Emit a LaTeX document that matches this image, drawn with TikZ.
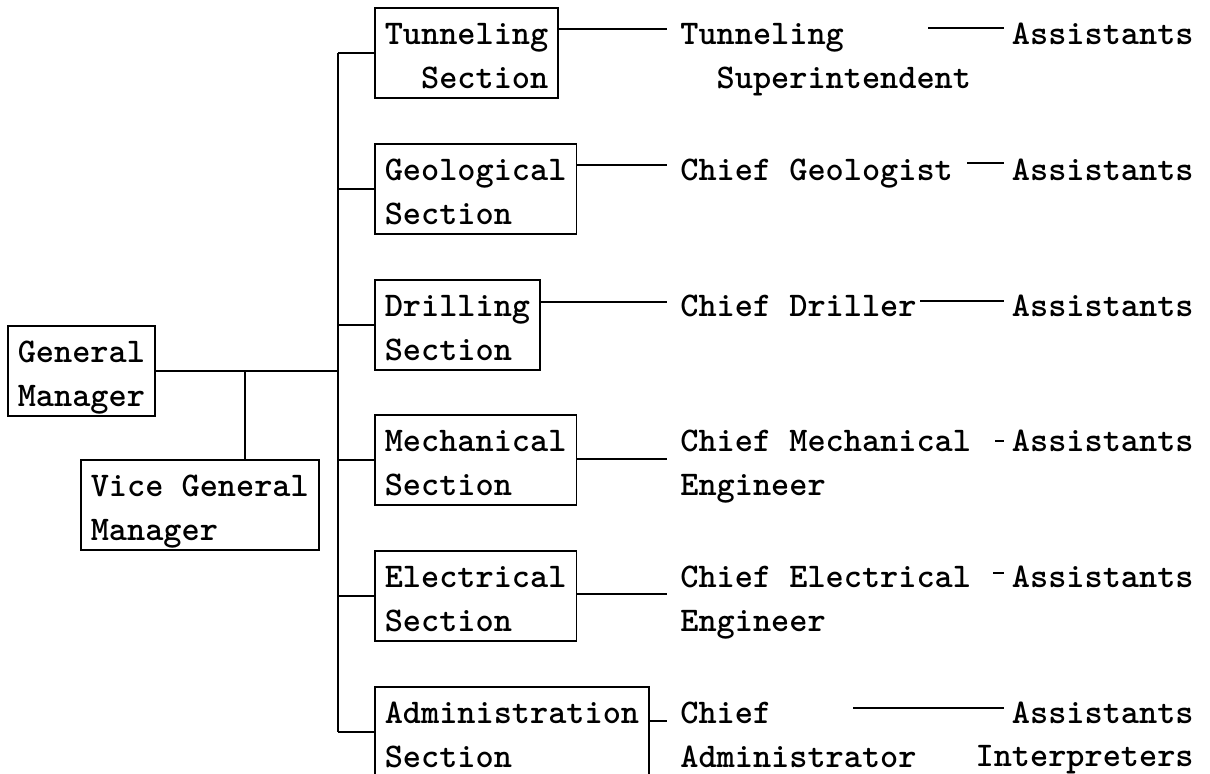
\documentclass[tikz,border=0pt]{standalone}
\usepackage{fontspec}

\newcommand\chartfont{\fontsize{17.3pt}{22pt}\selectfont\ttfamily\bfseries}
\newcommand\lineup{\rule{0pt}{18.5pt}}
\newcommand\linedown{\rule[-4.5pt]{0pt}{4.5pt}}

\tikzset{
    sectionbox/.style={draw, line width=0.8pt, anchor=north west, align=left,
        inner xsep=5pt, inner ysep=0pt, font=\chartfont},
    officer/.style={anchor=north west, align=left, inner xsep=6.5pt, inner ysep=0pt, font=\chartfont},
    staff/.style={anchor=north east, align=right, inner xsep=4pt, inner ysep=0pt, font=\chartfont},
    link/.style={line width=0.8pt}
}

\begin{document}
\begin{tikzpicture}[x=0.5pt, y=-0.5pt]
    % Frame (pixel units, y downwards)
    \useasboundingbox (0,0) rectangle (1210,773);
    \clip (0,0) rectangle (1210,773);
    \def \trunkx{338}
    \def \vicex{245}
    %%%
    %%% Management
    %%%
    \node[sectionbox] (gm) at (7,325) {\lineup General\\Manager\linedown};
    \node[sectionbox] (vgm) at (80,459) {\lineup Vice General\\Manager\linedown};
    %%%
    %%% Sections, chiefs and assistants
    %%%
    \foreach \row/\ytop/\dept/\chief/\helpers/\outy/\helpy/\helpx in {
        tun/7/{Tunneling\\\phantom{xx}Section}/{Tunneling\\\phantom{xx}Superintendent}/{Assistants}/22/21/928,
        geo/143/{Geological\\Section}/{Chief Geologist}/{Assistants}/22/20/967,
        dri/279/{Drilling\\Section}/{Chief Driller}/{Assistants}/23/22/920,
        mec/414/{Mechanical\\Section}/{Chief Mechanical\\Engineer}/{Assistants}/45/27/995,
        ele/550/{Electrical\\Section}/{Chief Electrical\\Engineer}/{Assistants}/44/23/993,
        adm/686/{Administration\\Section}/{Chief\\Administrator}/{Assistants}/35/22/853
    }
    {
        \node[sectionbox] (\row) at (374,\ytop) {\lineup\dept\linedown};
        \node[officer] (c\row) at (667,\ytop) {\lineup\chief\linedown};
        \node[staff] (a\row) at (1202,\ytop) {\lineup\helpers\linedown};
        % Branch off the trunk
        \draw[link] (\trunkx,0 |- \row.west) -- (\row.west);
        % Section to chief
        \path (\row.north east) ++(0,\outy) coordinate (o\row);
        \draw[link] (o\row) -- (o\row -| c\row.west);
        % Chief to assistants
        \path (\helpx,\ytop+\helpy) coordinate (s\row);
        \draw[link] (s\row) -- (s\row -| a\row.west);
    }
    \node[staff] (interp) at ([yshift=2pt]aadm.south east) {\lineup Interpreters\linedown};
    %%%
    %%% Trunk lines
    %%%
    \draw[line width=1pt] (\trunkx,0 |- tun.west) -- (\trunkx,0 |- adm.west);
    \draw[link] (gm.east) -- (\trunkx,0 |- gm.east);
    \draw[link] (\vicex,0 |- gm.east) -- (\vicex,0 |- vgm.north);
\end{tikzpicture}
\end{document}
